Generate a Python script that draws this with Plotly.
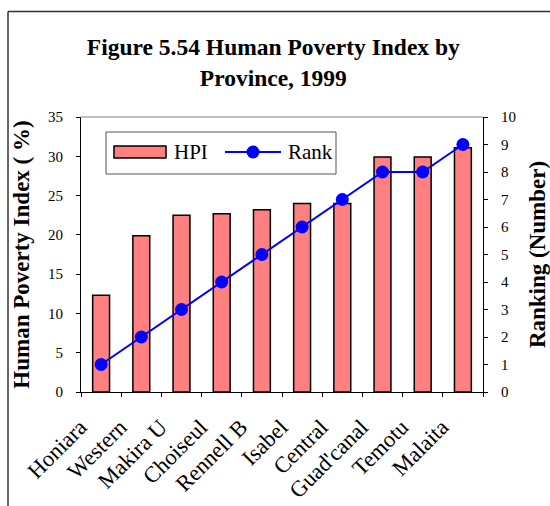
import plotly.graph_objects as go

# Human Poverty Index by province, 1999
provinces = ["Honiara", "Western", "Makira U", "Choiseul", "Rennell B",
             "Isabel", "Central", "Guad'canal", "Temotu", "Malaita"]
hpi = [12.3, 19.9, 22.5, 22.7, 23.2, 24.0, 24.0, 29.9, 29.9, 31.1]
rank = [1, 2, 3, 4, 5, 6, 7, 8, 8, 9]

SERIF = "Liberation Serif, Times New Roman, serif"
BAR_FILL = "#FF8080"
LINE_BLUE = "#0000FF"

fig = go.Figure()
fig.add_trace(go.Bar(
    x=provinces, y=hpi, name="HPI", width=0.42, showlegend=False,
    marker=dict(color=BAR_FILL, line=dict(color="black", width=1.5)),
))
fig.add_trace(go.Scatter(
    x=provinces, y=rank, name="Rank", yaxis="y2", mode="lines+markers",
    showlegend=False,
    line=dict(color=LINE_BLUE, width=2),
    marker=dict(color=LINE_BLUE, size=13, symbol="circle"),
))

W, H = 550, 506
L, R, T, B = 81, 67, 117, 114
pw, ph = W - L - R, H - T - B


def px(xp):
    return (xp - L) / pw


def py(yp):
    return (H - B - yp) / ph


fig.update_layout(
    width=W, height=H,
    margin=dict(l=L, r=R, t=T, b=B),
    paper_bgcolor="white", plot_bgcolor="white",
    font=dict(family=SERIF, size=15, color="black"),
    title=dict(
        text="Figure 5.54 Human Poverty Index by<br>Province, 1999",
        x=0.497, xanchor="center", y=1 - 55 / H, yanchor="middle",
        font=dict(family=SERIF, size=23.5, color="black", weight="bold"),
    ),
    showlegend=False,
    xaxis=dict(
        range=[-0.5, len(provinces) - 0.5],
        showline=True, linecolor="black", linewidth=1, automargin=False,
        ticks="outside", ticklen=4, tickcolor="black", tickson="boundaries",
        tickangle=-45, tickfont=dict(family=SERIF, size=22.5),
        ticklabelshift=-21, ticklabelstandoff=12,
        showgrid=False,
    ),
    yaxis=dict(
        range=[0, 35], dtick=5, showline=True, linecolor="black", linewidth=1,
        ticks="outside", ticklen=4, tickcolor="black", showgrid=False,
        zeroline=False, ticklabelstandoff=10, automargin=False,
        tickfont=dict(family=SERIF, size=15),
        title=dict(text="Human Poverty Index ( %)", standoff=11,
                   font=dict(family=SERIF, size=23, weight="bold")),
    ),
    yaxis2=dict(
        range=[0, 10], dtick=1, overlaying="y", side="right",
        showline=True, linecolor="black", linewidth=1, automargin=False,
        ticks="outside", ticklen=4, tickcolor="black", showgrid=False,
        zeroline=False, ticklabelstandoff=10,
        tickfont=dict(family=SERIF, size=15),
        title=dict(text="Ranking (Number)", standoff=13,
                   font=dict(family=SERIF, size=23, weight="bold")),
    ),
)

# gray top edge of plot area
fig.add_shape(type="line", xref="paper", yref="paper", x0=0, x1=1, y0=1, y1=1,
              line=dict(color="#808080", width=1))
# outer frame: top and left edges
fig.add_shape(type="line", xref="paper", yref="paper",
              x0=px(8), x1=px(W + 5), y0=py(11.5), y1=py(11.5),
              line=dict(color="#333333", width=1.5))
fig.add_shape(type="line", xref="paper", yref="paper",
              x0=px(8), x1=px(8), y0=py(11.5), y1=py(H + 5),
              line=dict(color="#333333", width=1.5))

# legend box with HPI swatch and Rank line key
fig.add_shape(type="rect", xref="paper", yref="paper",
              x0=px(106), x1=px(336), y0=py(132), y1=py(174),
              line=dict(color="#555555", width=1), fillcolor="white", layer="above")
fig.add_shape(type="rect", xref="paper", yref="paper",
              x0=px(114), x1=px(166), y0=py(146), y1=py(158),
              line=dict(color="black", width=1.5), fillcolor=BAR_FILL, layer="above")
fig.add_shape(type="line", xref="paper", yref="paper",
              x0=px(225), x1=px(281), y0=py(152), y1=py(152),
              line=dict(color=LINE_BLUE, width=2), layer="above")
fig.add_shape(type="circle", xref="paper", yref="paper",
              x0=px(246.5), x1=px(259.5), y0=py(145.5), y1=py(158.5),
              line=dict(color=LINE_BLUE, width=0), fillcolor=LINE_BLUE, layer="above")
fig.add_annotation(text="HPI", xref="paper", yref="paper", x=px(172), y=py(152),
                   xanchor="left", yanchor="middle", showarrow=False,
                   font=dict(family=SERIF, size=21, color="black"))
fig.add_annotation(text="Rank", xref="paper", yref="paper", x=px(286), y=py(152),
                   xanchor="left", yanchor="middle", showarrow=False,
                   font=dict(family=SERIF, size=21, color="black"))

fig.write_html("out.html")
